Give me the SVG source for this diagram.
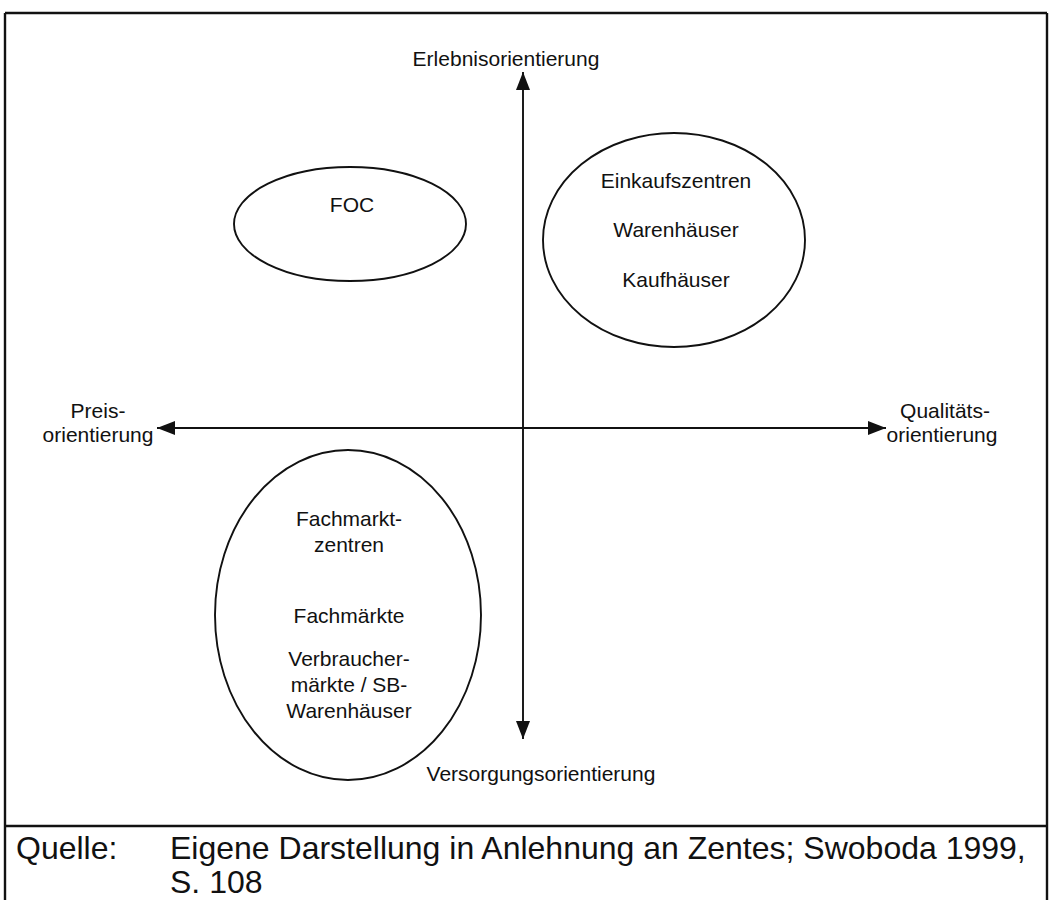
<svg xmlns="http://www.w3.org/2000/svg" width="1049" height="900" viewBox="0 0 1049 900">
  <style>
    .frame { fill: none; stroke: #111; stroke-width: 2.4; }
    .shape { fill: none; stroke: #111; stroke-width: 1.9; }
    .axis { fill: none; stroke: #111; stroke-width: 1.9; }
    .lbl { font-family: "Liberation Sans", Arial, sans-serif; font-size: 21px; fill: #111; text-anchor: middle; }
    .cap { font-family: "Liberation Sans", Arial, sans-serif; font-size: 32px; fill: #111; }
  </style>
  <defs>
    <marker id="arrow" viewBox="0 0 18 14" refX="18" refY="7" markerWidth="18" markerHeight="14" markerUnits="userSpaceOnUse" orient="auto-start-reverse">
      <path d="M0,0 L18,7 L0,14 Z" fill="#111"/>
    </marker>
  </defs>
  <rect width="1049" height="900" fill="#fff"/>

  <!-- outer frame and caption separator -->
  <g id="frame">
    <line class="frame" x1="5" y1="13" x2="1047" y2="13"/>
    <line class="frame" x1="5" y1="13" x2="5" y2="900"/>
    <line class="frame" x1="1047" y1="13" x2="1047" y2="900"/>
    <line class="frame" x1="5" y1="826" x2="1047" y2="826"/>
  </g>

  <!-- axes -->
  <g id="connectors">
    <line class="axis" x1="523" y1="72" x2="523" y2="739" marker-start="url(#arrow)" marker-end="url(#arrow)"/>
    <line class="axis" x1="157" y1="428" x2="886" y2="428" marker-start="url(#arrow)" marker-end="url(#arrow)"/>
  </g>

  <!-- axis labels -->
  <g id="axis-top"><text class="lbl" x="506" y="66">Erlebnisorientierung</text></g>
  <g id="axis-bottom"><text class="lbl" x="541" y="781">Versorgungsorientierung</text></g>
  <g id="axis-left">
    <text class="lbl" x="98" y="418">Preis-</text>
    <text class="lbl" x="98" y="442">orientierung</text>
  </g>
  <g id="axis-right">
    <text class="lbl" x="945" y="418">Qualitäts-</text>
    <text class="lbl" x="942" y="442">orientierung</text>
  </g>

  <!-- clusters -->
  <g id="foc">
    <ellipse class="shape" cx="350" cy="224" rx="116" ry="57"/>
    <text class="lbl" x="352" y="212">FOC</text>
  </g>
  <g id="einkaufszentren">
    <ellipse class="shape" cx="674" cy="240" rx="131" ry="107"/>
    <text class="lbl" x="676" y="188">Einkaufszentren</text>
    <text class="lbl" x="676" y="237">Warenhäuser</text>
    <text class="lbl" x="676" y="287">Kaufhäuser</text>
  </g>
  <g id="fachmaerkte">
    <ellipse class="shape" cx="348" cy="615" rx="133" ry="165"/>
    <text class="lbl" x="349" y="526">Fachmarkt-</text>
    <text class="lbl" x="349" y="552">zentren</text>
    <text class="lbl" x="349" y="623">Fachmärkte</text>
    <text class="lbl" x="349" y="666">Verbraucher-</text>
    <text class="lbl" x="349" y="692">märkte / SB-</text>
    <text class="lbl" x="349" y="718">Warenhäuser</text>
  </g>

  <!-- source line -->
  <g id="caption">
    <text class="cap" x="16" y="859">Quelle:</text>
    <text class="cap" x="170" y="859">Eigene Darstellung in Anlehnung an Zentes; Swoboda 1999,</text>
    <text class="cap" x="170" y="893">S. 108</text>
  </g>
</svg>
